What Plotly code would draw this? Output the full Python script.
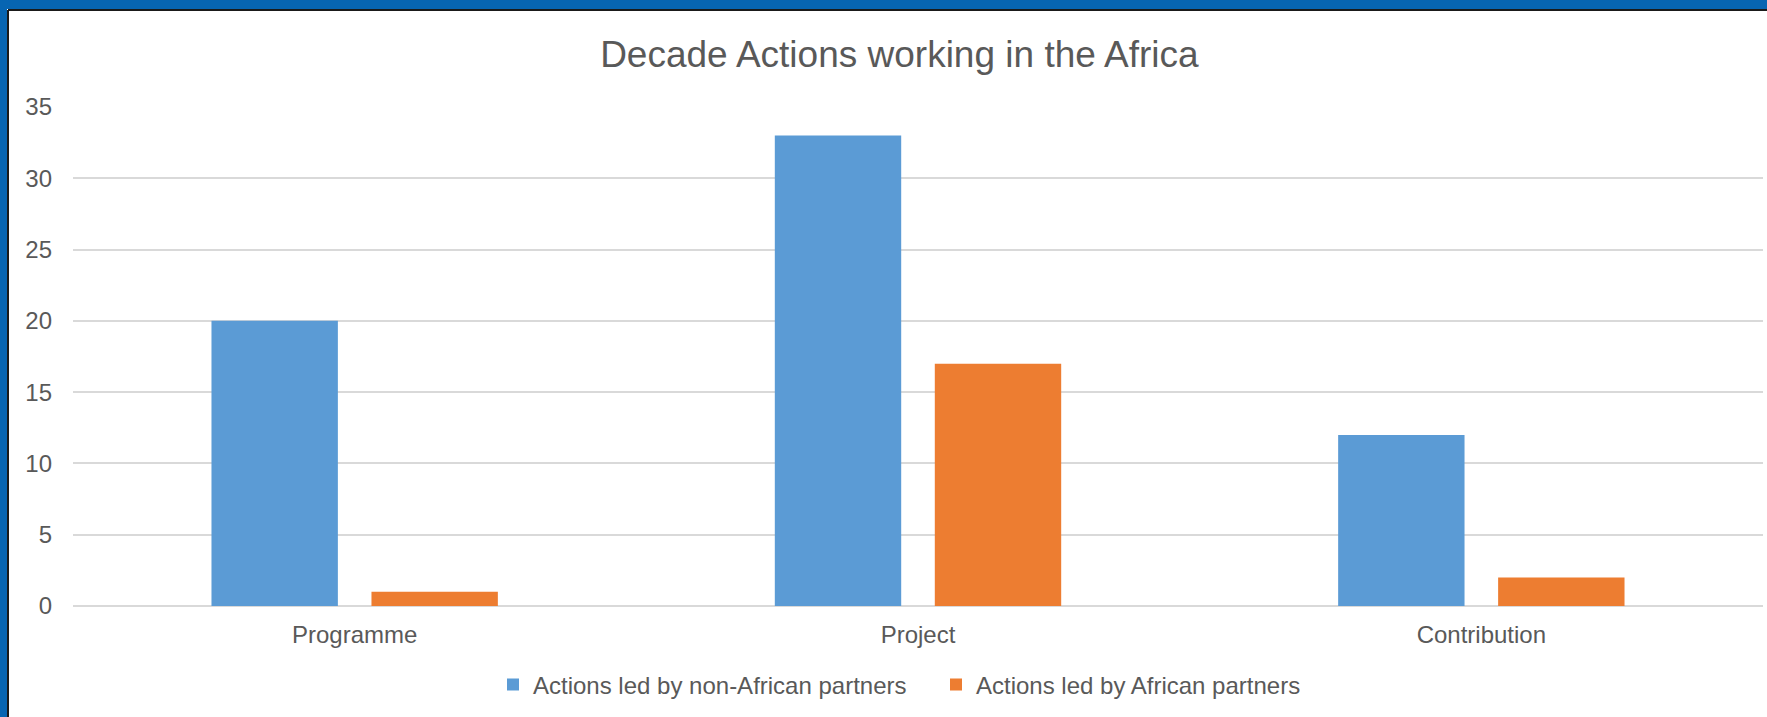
import plotly.graph_objects as go

categories = ["Programme", "Project", "Contribution"]
non_african = [20, 33, 12]
african = [1, 17, 2]
series_names = ["Actions led by non-African partners", "Actions led by African partners"]
tick_vals = [0, 5, 10, 15, 20, 25, 30, 35]

W, H = 1767, 717
ML, MR, MT, MB = 73, 4, 107, 111
FONT = "Liberation Sans, Arial, sans-serif"
GREY = "#595959"

fig = go.Figure()
fig.add_trace(go.Bar(x=categories, y=non_african, name=series_names[0],
                     marker=dict(color="#5B9BD5", line=dict(width=0))))
fig.add_trace(go.Bar(x=categories, y=african, name=series_names[1],
                     marker=dict(color="#ED7D31", line=dict(width=0))))

pw = W - ML - MR
ph = H - MT - MB
def px_x(p):
    return (p - ML) / pw
def px_y(p):
    return (H - MB - p) / ph

shapes = [
    # blue frame top & left
    dict(type="rect", xref="paper", yref="paper", x0=px_x(0), x1=px_x(W), y0=px_y(9), y1=px_y(0),
         fillcolor="#0765B2", line=dict(width=0), layer="below"),
    dict(type="rect", xref="paper", yref="paper", x0=px_x(0), x1=px_x(7), y0=px_y(H), y1=px_y(0),
         fillcolor="#0765B2", line=dict(width=0), layer="below"),
    dict(type="line", xref="paper", yref="paper", x0=px_x(8), x1=px_x(W), y0=px_y(10), y1=px_y(10),
         line=dict(color="#1a1a1a", width=2), layer="below"),
    dict(type="line", xref="paper", yref="paper", x0=px_x(8), x1=px_x(8), y0=px_y(H), y1=px_y(10),
         line=dict(color="#1a1a1a", width=2), layer="below"),
]

fig.update_layout(
    width=W, height=H,
    margin=dict(l=ML, r=MR, t=MT, b=MB, pad=0),
    paper_bgcolor="white", plot_bgcolor="white",
    font=dict(family=FONT, color=GREY, size=24),
    title=dict(text="Decade Actions working in the Africa", x=0.509, xref="container", xanchor="center",
               y=1 - 54 / H, yref="container", yanchor="middle",
               font=dict(family=FONT, size=37, color=GREY)),
    barmode="group", bargap=0.432, bargroupgap=0.21,
    showlegend=True,
    legend=dict(orientation="h", x=px_x(493), xanchor="left", y=-(685 - (H - MB)) / ph, yanchor="middle",
                font=dict(family=FONT, size=24, color=GREY), itemwidth=30, entrywidth=398,
                bgcolor="rgba(0,0,0,0)", traceorder="normal"),
    shapes=shapes,
)
fig.update_xaxes(showgrid=False, showline=False, zeroline=False, ticks="",
                 tickfont=dict(family=FONT, size=24, color=GREY), ticklabelstandoff=12)
fig.update_yaxes(range=[0, 35], tickvals=tick_vals, showgrid=True, gridcolor="#D9D9D9", gridwidth=1.5,
                 zeroline=True, zerolinecolor="#D9D9D9", zerolinewidth=1.5, showline=False, ticks="",
                 tickfont=dict(family=FONT, size=24, color=GREY), ticklabelstandoff=20)

fig.write_html("out.html", config={"displayModeBar": False},
               post_script="document.body.style.margin='0';document.body.style.padding='0';")
